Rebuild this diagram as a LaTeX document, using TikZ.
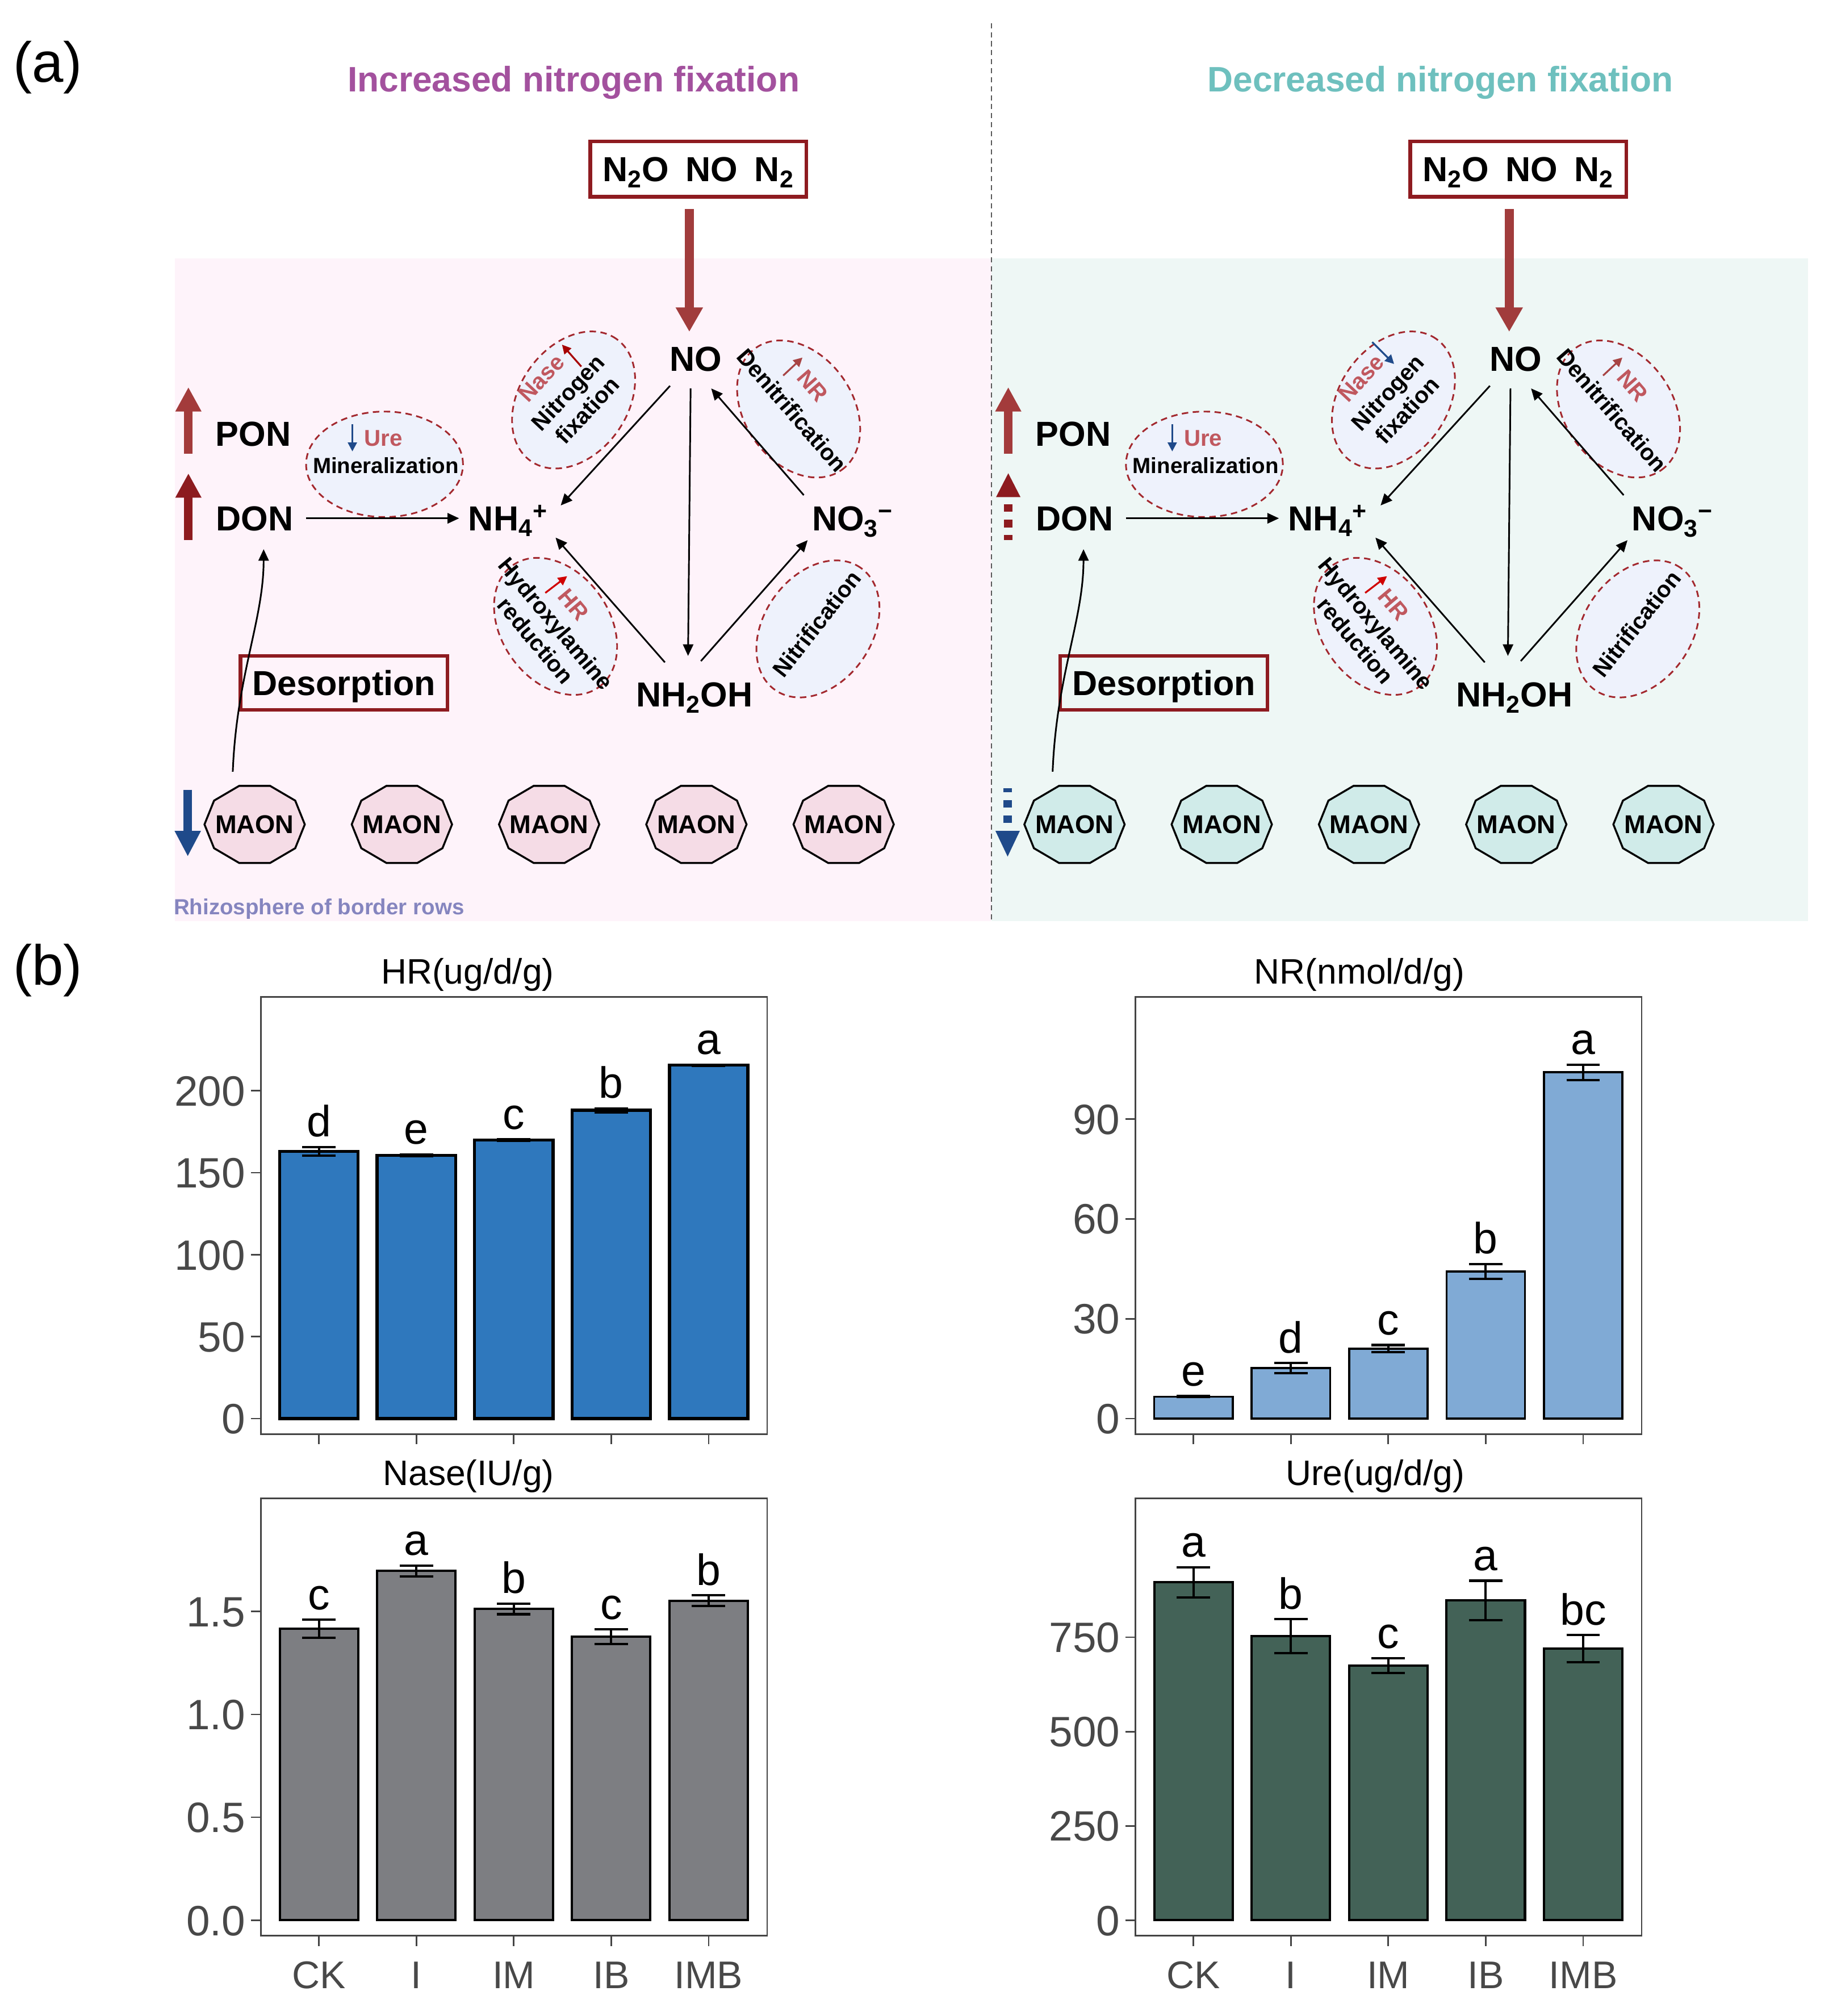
\documentclass[tikz,border=0pt]{standalone}
\usepackage{fontspec}
\setmainfont{Liberation Sans}
\usetikzlibrary{arrows.meta,calc}
\definecolor{pinkbg}{HTML}{FEF3FA}
\definecolor{mintbg}{HTML}{EEF7F5}
\definecolor{ellfill}{HTML}{EEF2FC}
\definecolor{dashred}{HTML}{A3282E}
\definecolor{boxred}{HTML}{8E1B20}
\definecolor{bigred}{HTML}{A13C3C}
\definecolor{ponred}{HTML}{A33B3B}
\definecolor{donred}{HTML}{8D1B1F}
\definecolor{navy}{HTML}{1F4A8A}
\definecolor{rosy}{HTML}{C0585F}
\definecolor{brightred}{HTML}{D00000}
\definecolor{nrarrow}{HTML}{A84444}
\definecolor{titlepurple}{HTML}{A3519E}
\definecolor{titleteal}{HTML}{6EC0BE}
\definecolor{rhizo}{HTML}{8585BF}
\definecolor{maonpink}{HTML}{F5DCE6}
\definecolor{maonteal}{HTML}{D0EBE9}
\definecolor{hrblue}{HTML}{2F78BD}
\definecolor{nrblue}{HTML}{80AAD5}
\definecolor{nasegray}{HTML}{7D7E82}
\definecolor{uregreen}{HTML}{436257}
\definecolor{axisgray}{HTML}{484848}
\definecolor{framegray}{HTML}{444444}
\newcommand\fsz[2]{\fontsize{#1pt}{#2pt}\selectfont}
\tikzset{
  mainlbl/.style={font=\bfseries\fsz{27}{32}, inner sep=0pt, text height=19.3pt, text depth=0pt},
  ptxt/.style={font=\bfseries\fsz{17.8}{20.5}, inner sep=0pt},
  maontxt/.style={font=\bfseries\fsz{20}{24}, inner sep=0pt, minimum width=78pt, minimum height=60pt, text height=14.3pt, text depth=0pt},
  ell/.style={draw=dashred, fill=ellfill, line width=1.3pt, dash pattern=on 5pt off 3.5pt},
  arr/.style={line width=1.3pt, -{Triangle[length=9pt,width=8pt]}},
  thinarrow/.style={line width=1.4pt, -{Triangle[length=7pt,width=7pt]}},
  bigarr/.style={line width=7pt, bigred, -{Triangle[length=19pt,width=20pt]}},
  framec/.style={draw=framegray, line width=1.2pt},
  errbar/.style={line width=1.8pt},
  letter/.style={font=\fsz{34}{40}, anchor=base, inner sep=0pt},
  ticklbl/.style={font=\fsz{33}{39}, text=axisgray, anchor=east, inner sep=0pt, text height=23.6pt, text depth=0pt},
  xlbl/.style={font=\fsz{30}{36}, text=axisgray, anchor=base, inner sep=0pt},
  ctitle/.style={font=\fsz{27.5}{33}, inner sep=0pt, anchor=base east}
}
% one nitrogen-cycle panel
\newcommand\npanel[2]{%
  \draw[ell] (299,361) ellipse [x radius=61pt, y radius=41pt];
  \draw[ell, rotate around={55:(446,311)}] (446,311) ellipse [x radius=58pt, y radius=42pt];
  \draw[ell, rotate around={-55:(621,318)}] (621,318) ellipse [x radius=58pt, y radius=42pt];
  \draw[ell, rotate around={-55:(432,487)}] (432,487) ellipse [x radius=58pt, y radius=42pt];
  \draw[ell, rotate around={55:(636,489)}] (636,489) ellipse [x radius=58pt, y radius=42pt];
  \node[ptxt, font=\bfseries\fsz{17}{20}] (#1min) at (300,362) {Mineralization};
  \node[ptxt, text=rosy, anchor=west] (#1ure) at (283,341) {Ure};
  \draw[thinarrow, navy] (274,330) -- (274,351);
  \node[ptxt, align=center, rotate=47] (#1nfix) at (449,312) {Nitrogen\\fixation};
  \node[ptxt, text=rosy, rotate=47] (#1nase) at (421,294) {Nase};
  \node[ptxt, rotate=-49] (#1denit) at (616,319) {Denitrification};
  \node[ptxt, text=rosy, rotate=-49] (#1nr) at (632,300) {NR};
  \draw[thinarrow, nrarrow] (609,292) -- (624,278);
  \node[ptxt, align=center, rotate=-50] (#1hyd) at (424.5,491.5) {Hydroxylamine\\reduction};
  \node[ptxt, text=rosy, rotate=-50] (#1hr) at (446,470) {HR};
  \draw[thinarrow, brightred] (424,461) -- (441,448);
  \node[ptxt, rotate=52] (#1nitr) at (635,485) {Nitrification};
  \node[mainlbl] (#1no) at (541,279) {NO};
  \node[mainlbl] (#1nh4) at (395,403) {NH\textsubscript{4}\textsuperscript{+}};
  \node[mainlbl] (#1no3) at (663,403) {NO\textsubscript{3}\textsuperscript{−}};
  \node[mainlbl] (#1nh2oh) at (540,540) {NH\textsubscript{2}OH};
  \node[mainlbl] (#1pon) at (197,337) {PON};
  \node[mainlbl] (#1don) at (198,403) {DON};
  \node[mainlbl, draw=boxred, line width=2.8pt, minimum width=161pt, minimum height=42pt] (#1des) at (267.5,531) {Desorption};
  \node[mainlbl, draw=boxred, fill=white, line width=2.8pt, minimum width=168pt, minimum height=43pt] (#1gas) at (543,131.5) {N\textsubscript{2}O\hspace{13pt}NO\hspace{13pt}N\textsubscript{2}};
  \foreach \i/\x in {1/198,2/312.5,3/427,4/541.5,5/656} {
    \draw[line width=1.5pt, fill=#2] (\x,641) +(0:39pt and 31.5pt) \foreach \a in {36,72,...,324}{ -- +(\a:39pt and 31.5pt)} -- cycle;
    \node[maontxt] (#1maon\i) at (\x,641) {MAON};
  }
  \draw[arr] ($(#1don.center)+(40,0)$) -- ($(#1nh4.center)+(-38,0)$);
  \draw[arr] ($(#1no.center)+(-20,21)$) -- ($(#1nh4.center)+(41,-10)$);
  \draw[arr] ($(#1no.center)+(-4,23)$) -- ($(#1nh2oh.center)+(-5,-30)$);
  \draw[arr] ($(#1nh2oh.center)+(-23,-25)$) -- ($(#1nh4.center)+(37,15)$);
  \draw[arr] ($(#1nh2oh.center)+(5,-26)$) -- ($(#1no3.center)+(-35,17)$);
  \draw[arr] ($(#1no3.center)+(-38,-18)$) -- ($(#1no.center)+(12,23)$);
  \draw[arr] ($(#1maon1.center)+(-17,-41)$) .. controls +(3,-75) and +(0,55) .. ($(#1don.center)+(7,24)$);
  \draw[bigarr] ($(#1gas.center)+(-7,31)$) -- ($(#1no.center)+(-5,-21)$);
}
% bar chart: #1 L, #2 T, #3 B, #4 zero y, #5 px per unit, #6 bar style, #7 bars, #8 ticks, #9 prefix
\newcommand\barchart[9]{%
  \foreach \vv/\ev/\lt [count=\i from 0] in {#7} {
    \pgfmathsetmacro\bxx{#1+45+75.75*\i}
    \pgfmathsetmacro\byy{#4-#5*\vv}
    \pgfmathsetmacro\eup{#4-#5*(\vv+\ev)}
    \pgfmathsetmacro\edn{#4-#5*(\vv-\ev)}
    \draw[#6] (\bxx-30.5,#4) rectangle (\bxx+30.5,\byy);
    \draw[errbar] (\bxx,\eup) -- (\bxx,\edn) (\bxx-13,\eup) -- (\bxx+13,\eup) (\bxx-13,\edn) -- (\bxx+13,\edn);
    \node[letter] (#9let\i) at (\bxx,\eup-8) {\lt};
    \draw[framec] (\bxx,#3) -- (\bxx,#3+8);
  }
  \foreach \tv/\lab [count=\k] in {#8} {
    \pgfmathsetmacro\tyy{#4-#5*\tv}
    \draw[framec] (#1-8,\tyy) -- (#1,\tyy);
    \node[ticklbl] (#9tk\k) at (#1-12,\tyy) {\lab};
  }
  \draw[framec] (#1,#2) rectangle (#1+393.5,#3);
}
\begin{document}
\begin{tikzpicture}[x=1pt,y=-1pt]
\fill[white] (0,0) rectangle (1428,1567.5);
\useasboundingbox (0,0) rectangle (1428,1567.5);
% backgrounds
\fill[pinkbg] (136,201) rectangle (771,716);
\fill[mintbg] (771,201) rectangle (1406,716);
\draw[line width=0.8pt, black!65, dash pattern=on 4pt off 3pt] (771,18) -- (771,716);
% labels
\node[anchor=base west, font=\fsz{44}{50}, inner sep=0pt] (la) at (10,64) {(a)};
\node[anchor=base west, font=\fsz{44}{50}, inner sep=0pt] (lb) at (10,766) {(b)};
\node[anchor=base, font=\bfseries\fsz{27.5}{33}, text=titlepurple, inner sep=0pt] (t1) at (446,71.5) {Increased nitrogen fixation};
\node[anchor=base, font=\bfseries\fsz{27.5}{33}, text=titleteal, inner sep=0pt] (t2) at (1120,71.5) {Decreased nitrogen fixation};
\node[anchor=base west, font=\bfseries\fsz{17}{20}, text=rhizo, inner sep=0pt] (rh) at (135,711) {Rhizosphere of border rows};
% left panel
\npanel{L}{maonpink}
\draw[thinarrow, brightred!80!black] (452,285) -- (437,268);
\draw[line width=6.5pt, ponred, -{Triangle[length=19pt,width=19pt]}] (146.5,353) -- (146.5,301);
\draw[line width=6.5pt, donred, -{Triangle[length=19pt,width=19pt]}] (146.5,420) -- (146.5,368);
\draw[line width=6.5pt, navy, -{Triangle[length=20pt,width=19pt]}] (146,614) -- (146,666);
% right panel
\begin{scope}[xshift=637.5pt]
\npanel{R}{maonteal}
\draw[thinarrow, navy] (429.5,266) -- (446.5,283);
\draw[line width=6.5pt, ponred, -{Triangle[length=19pt,width=19pt]}] (146.5,353) -- (146.5,301);
\draw[line width=6.5pt, donred, dash pattern=on 6pt off 6pt, dash phase=6pt] (146.5,386) -- (146.5,420);
\fill[donred] (137,386.5) -- (156,386.5) -- (146.5,368) -- cycle;
\draw[line width=6.5pt, navy, dash pattern=on 6pt off 6pt, dash phase=6pt] (146,646) -- (146,613);
\fill[navy] (136.5,646) -- (155.5,646) -- (146,666) -- cycle;
\end{scope}
% charts
\barchart{203}{775}{1115}{1103}{1.275}{fill=hrblue, line width=2.4pt}{163/2.7/d,160.6/0.5/e,169.8/0.5/c,188/1.2/b,215.5/0.3/a}{0/0,50/50,100/100,150/150,200/200}{hr}
\barchart{883}{775}{1115}{1103}{2.589}{fill=nrblue, line width=1.6pt}{6.6/0.15/e,15.2/1.5/d,21/1.1/c,44.2/2.2/b,104/2.3/a}{0/0,30/30,60/60,90/90}{nr}
\barchart{203}{1165}{1505}{1493}{160}{fill=nasegray, line width=1.8pt}{1.416/0.044/c,1.697/0.027/a,1.513/0.026/b,1.378/0.035/c,1.553/0.026/b}{0/0.0,0.5/0.5,1/1.0,1.5/1.5}{na}
\barchart{883}{1165}{1505}{1493}{0.2933}{fill=uregreen, line width=1.8pt}{896/40/a,753/45/b,675/19/c,848/52/a,720/36/bc}{0/0,250/250,500/500,750/750}{ur}
\node[ctitle] (hrtitle) at (431,765) {HR(ug/d/g)};
\node[ctitle] (nrtitle) at (1139,765) {NR(nmol/d/g)};
\node[ctitle] (natitle) at (431,1155) {Nase(IU/g)};
\node[ctitle] (urtitle) at (1139,1155) {Ure(ug/d/g)};
\foreach \lab [count=\i from 0] in {CK,I,IM,IB,IMB} {
  \node[xlbl] (nx\i) at (203+45+75.75*\i,1546) {\lab};
  \node[xlbl] (ux\i) at (883+45+75.75*\i,1546) {\lab};
}
\end{tikzpicture}
\end{document}
